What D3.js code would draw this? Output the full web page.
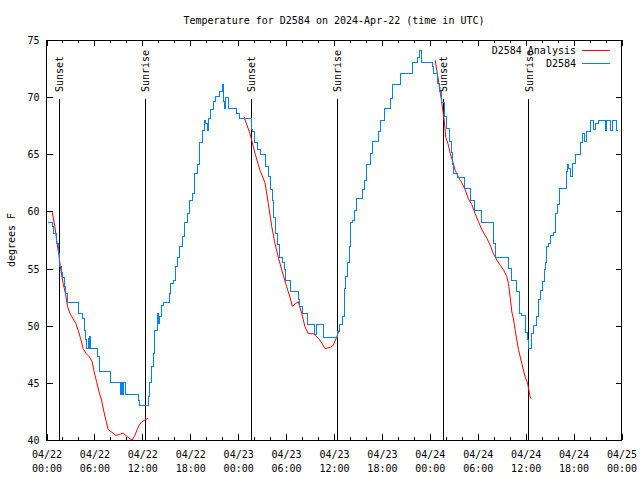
<!DOCTYPE html>
<html><head><meta charset="utf-8">
<script src="https://cdn.jsdelivr.net/npm/d3@7"></script>
<style>
body{margin:0;background:#fff;}
svg text{font-family:"DejaVu Sans Mono",monospace;font-size:10px;fill:#000;}
</style></head><body>
<svg id="c" width="640" height="480"></svg>
<script>
const titleText = "Temperature for D2584 on 2024-Apr-22 (time in UTC)";
const yLabel = "degrees F";
const seriesNames = ["D2584 Analysis", "D2584"];
const seriesColors = ["#ff0000", "#0080ff"];
const yTicks = [40, 45, 50, 55, 60, 65, 70, 75];
const xTickHours = [0, 6, 12, 18, 24, 30, 36, 42, 48, 54, 60, 66, 72];
const xTickDates = ["04/22","04/22","04/22","04/22","04/23","04/23","04/23","04/23","04/24","04/24","04/24","04/24","04/25"];
const xTickTimes = ["00:00","06:00","12:00","18:00","00:00","06:00","12:00","18:00","00:00","06:00","12:00","18:00","00:00"];
const eventNames = ["Sunset","Sunrise","Sunset","Sunrise","Sunset","Sunrise"];
const eventHours = [1.58, 12.36, 25.64, 36.42, 49.7, 60.4];

// observations (hours since 04/22 00:00 UTC, deg F)
const obsHours = [0.2,0.7,0.9,1.25,1.45,1.6,1.88,2.0,2.2,2.42,2.67,4.05,4.51,4.71,4.92,5.05,5.21,5.3,5.43,5.55,6.34,6.59,6.68,8.02,9.27,9.44,9.56,9.69,9.94,11.53,11.69,12.78,12.94,13.16,13.36,13.57,13.91,14.07,14.2,14.41,14.61,15.36,15.54,15.86,16.16,16.42,16.7,16.99,17.33,17.67,17.96,18.3,18.58,18.92,19.21,19.55,19.84,19.96,20.13,20.25,20.59,20.88,21.22,21.72,22.0,22.13,22.26,22.43,22.84,23.81,24.22,25.64,25.81,26.1,26.39,26.81,27.44,27.77,28.07,28.32,28.48,28.7,28.95,29.15,29.52,29.74,29.95,30.58,31.53,31.74,32.03,32.66,33.62,33.83,34.66,36.42,36.75,37.04,37.26,37.47,37.67,37.88,38.1,38.3,38.55,38.85,39.55,39.76,40.1,40.51,40.85,41.52,41.85,42.31,43.02,43.36,44.27,45.86,46.44,46.65,46.99,48.28,48.45,48.95,49.2,49.5,49.83,50.13,50.42,50.67,50.88,50.96,51.5,52.33,53.13,53.58,54.51,55.96,56.27,57.84,58.27,58.9,59.23,59.44,60.03,60.28,60.35,60.78,60.98,61.4,61.6,61.9,62.16,62.32,62.5,62.62,62.86,63.16,63.48,63.78,63.98,64.2,65.07,65.24,65.4,65.6,65.87,66.2,66.83,67.12,67.33,67.58,68.17,68.5,68.8,69.12,69.96,70.18,70.68,70.93,71.43,71.55];
const obsTemps = [59.0,58.7,58.1,57.2,56.3,55.2,54.7,54.2,53.4,52.8,52.0,51.1,50.6,49.6,48.8,48.0,48.9,48.0,49.1,48.0,47.3,46.7,46.0,45.0,44.0,45.0,44.0,45.0,44.0,43.5,43.0,43.8,45.0,46.4,47.6,49.6,51.1,50.2,50.8,51.8,52.0,52.8,53.7,54.0,55.2,56.0,56.9,57.8,59.0,59.8,61.0,61.6,63.3,64.1,66.0,67.1,68.0,67.7,67.1,68.1,68.9,69.6,70.1,70.5,71.1,69.6,69.0,70.0,69.0,68.6,68.1,67.2,67.0,66.0,65.4,65.0,63.9,63.1,61.9,61.0,59.5,58.1,57.1,56.0,55.5,54.9,54.0,53.0,52.3,51.7,51.1,50.1,49.2,50.1,49.0,49.5,50.1,50.8,53.3,54.3,55.5,56.9,59.0,59.2,60.1,61.1,61.9,62.7,64.1,65.1,66.1,67.0,68.0,69.0,69.9,71.1,72.1,73.0,73.5,74.1,73.0,72.7,72.1,71.2,70.5,69.5,68.3,67.3,66.1,65.2,64.1,63.3,63.0,62.0,61.0,60.1,59.0,57.2,56.0,55.0,54.0,53.0,51.1,50.9,49.4,48.8,48.0,49.3,50.0,50.8,52.3,53.1,53.9,54.9,55.5,56.9,57.2,57.9,58.2,59.8,60.6,62.0,63.5,64.1,63.8,63.1,64.2,65.0,66.0,66.8,66.1,67.0,68.0,67.2,67.7,68.0,67.1,68.0,67.1,68.0,67.1,67.1];

// analysis, three overnight runs
const ana1Hours = [0.7,1.04,1.33,1.58,1.79,2.08,2.38,2.63,2.92,3.33,3.67,3.96,4.26,4.59,4.92,5.34,5.71,5.96,6.27,6.59,6.89,7.18,7.52,7.72,8.15,8.68,9.19,9.6,9.94,10.35,10.73,11.07,11.4,11.78,12.19,12.73];
const ana1Temps = [60.0,58.7,57.2,56.0,54.9,53.7,52.8,51.7,51.1,50.6,50.2,49.6,48.9,48.0,47.6,47.3,46.85,46.0,45.1,44.2,43.5,42.5,41.5,40.9,40.7,40.4,40.5,40.6,40.4,40.15,40.0,40.4,41.0,41.5,41.7,41.9];
const ana2Hours = [24.72,25.48,26.1,26.73,27.36,27.77,28.2,28.61,29.02,29.57,30.08,30.49,30.78,31.12,31.53,31.95,32.37,32.78,33.41,34.04,34.46,34.87,35.5,35.92,36.34,36.63];
const ana2Temps = [68.3,66.8,65.1,63.6,62.5,60.7,58.7,57.2,56.0,54.6,53.4,52.5,51.7,51.9,52.1,51.1,49.9,49.3,49.3,48.9,48.5,48.0,48.1,48.3,49.0,49.6];
const ana3Hours = [48.66,49.07,49.5,49.79,50.0,50.33,50.54,50.88,51.17,51.58,52.01,52.42,52.83,53.26,53.67,54.09,54.51,55.14,55.55,55.96,56.39,56.8,57.22,57.64,57.84,58.06,58.27,58.47,58.69,59.1,59.52,59.94,60.23,60.56,60.69];
const ana3Temps = [73.25,71.5,69.5,68.0,66.5,65.8,65.1,64.35,63.6,63.0,62.5,61.9,61.1,60.6,59.8,59.1,58.4,57.65,57.06,56.3,55.75,55.3,54.9,54.3,53.7,52.5,51.2,50.6,49.6,47.9,46.7,45.5,45.0,43.8,43.6];

const L = 46.5, R = 621.5, T = 40, B = 440;
const svg = d3.select("#c");
const x = d3.scaleLinear().domain([0, 72]).range([L, R]);
const y = d3.scaleLinear().domain([40, 75]).range([B, T]);

// title
svg.append("text").attr("x", (L + R) / 2).attr("y", 24).attr("text-anchor", "middle").text(titleText);
// y label
svg.append("text").attr("transform", "translate(11,240) rotate(-90)").attr("text-anchor", "middle").attr("dy", "0.35em").text(yLabel);

const minorHours = d3.range(0, 73, 2).filter(h => h % 6 !== 0);
function styleAxis(g) {
  g.select(".domain").remove();
  g.selectAll(".tick line").attr("stroke", "#000").attr("shape-rendering", "crispEdges");
  g.attr("font-family", null).attr("font-size", null);
}
// bottom major with labels
const gB = svg.append("g").attr("transform", `translate(0,${B})`)
  .call(d3.axisBottom(x).tickValues(xTickHours).tickSizeInner(-6).tickSizeOuter(0).tickPadding(0).tickFormat(""));
styleAxis(gB);
gB.selectAll(".tick text").each(function(d, i) {
  const t = d3.select(this).attr("y", null).attr("dy", null);
  t.append("tspan").attr("x", 0).attr("y", 18).text(xTickDates[i]);
  t.append("tspan").attr("x", 0).attr("y", 32).text(xTickTimes[i]);
});
svg.append("g").attr("transform", `translate(0,${B})`)
  .call(d3.axisBottom(x).tickValues(minorHours).tickSizeInner(-3).tickSizeOuter(0).tickFormat("")).call(styleAxis);
// top
svg.append("g").attr("transform", `translate(0,${T})`)
  .call(d3.axisTop(x).tickValues(xTickHours).tickSizeInner(-6).tickSizeOuter(0).tickFormat("")).call(styleAxis);
svg.append("g").attr("transform", `translate(0,${T})`)
  .call(d3.axisTop(x).tickValues(minorHours).tickSizeInner(-3).tickSizeOuter(0).tickFormat("")).call(styleAxis);
// left
const gL = svg.append("g").attr("transform", `translate(${L},0)`)
  .call(d3.axisLeft(y).tickValues(yTicks).tickSizeInner(-6).tickSizeOuter(0).tickPadding(6).tickFormat(d3.format("d")));
styleAxis(gL);
gL.selectAll(".tick text").attr("x", -7).attr("dy", "0.35em");
// right
svg.append("g").attr("transform", `translate(${R},0)`)
  .call(d3.axisRight(y).tickValues(yTicks).tickSizeInner(-6).tickSizeOuter(0).tickFormat("")).call(styleAxis);

// frame
svg.append("rect").attr("x", L).attr("y", T).attr("width", R - L).attr("height", B - T)
  .attr("fill", "none").attr("stroke", "#000").attr("shape-rendering", "crispEdges");

// sunrise / sunset lines
eventHours.forEach((h, i) => {
  svg.append("line").attr("x1", x(h)).attr("x2", x(h)).attr("y1", 99).attr("y2", B)
    .attr("stroke", "#000").attr("shape-rendering", "crispEdges");
  svg.append("text").attr("transform", `translate(${x(h)},92) rotate(-90)`).attr("dy", "0.4em").text(eventNames[i]);
});

// analysis lines
const lineA = d3.line().x(d => x(d[0])).y(d => y(d[1]));
[[ana1Hours, ana1Temps], [ana2Hours, ana2Temps], [ana3Hours, ana3Temps]].forEach(([hs, ts]) => {
  svg.append("path").datum(hs.map((h, i) => [h, ts[i]])).attr("d", lineA)
    .attr("fill", "none").attr("stroke", seriesColors[0]).attr("stroke-width", 1);
});
// observations
const lineO = d3.line().x(d => x(d[0])).y(d => y(d[1])).curve(d3.curveStepAfter);
svg.append("path").datum(obsHours.map((h, i) => [h, obsTemps[i]])).attr("d", lineO)
  .attr("fill", "none").attr("stroke", seriesColors[1]).attr("stroke-width", 1).attr("shape-rendering", "crispEdges");

// legend
seriesNames.forEach((n, i) => {
  const ly = 50 + i * 13;
  svg.append("text").attr("x", 576).attr("y", ly).attr("dy", "0.35em").attr("text-anchor", "end").text(n);
  svg.append("line").attr("x1", 582).attr("x2", 610).attr("y1", ly).attr("y2", ly)
    .attr("stroke", seriesColors[i]).attr("shape-rendering", "crispEdges");
});
</script></body></html>
